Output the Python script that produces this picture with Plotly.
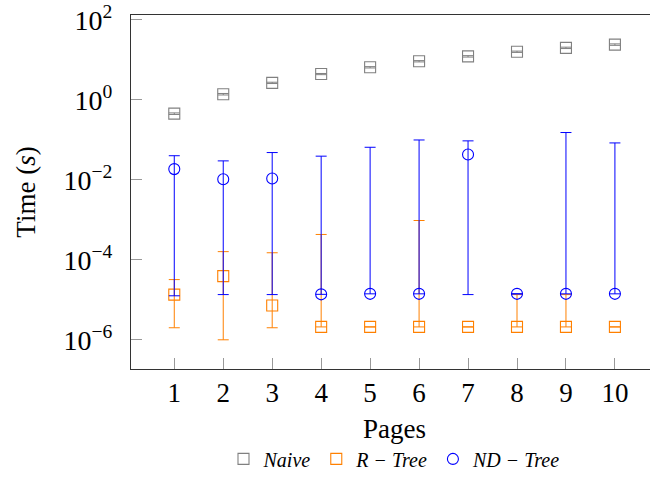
import plotly.graph_objects as go

pages = [1, 2, 3, 4, 5, 6, 7, 8, 9, 10]

naive = [0.45, 1.38, 2.65, 4.4, 6.5, 9.2, 12.2, 15.9, 19.9, 24.0]
naive_upper = [0.47, 1.44, 2.75, 4.55, 6.75, 9.55, 12.7, 16.5, 20.7, 25.0]
naive_lower = [0.43, 1.32, 2.55, 4.25, 6.25, 8.85, 11.7, 15.3, 19.1, 23.0]

rtree = [1.35e-5, 3.9e-5, 7.2e-6, 2.1e-6, 2.1e-6, 2.1e-6, 2.1e-6, 2.1e-6, 2.1e-6, 2.1e-6]
rtree_upper = [3.2e-5, 1.6e-4, 1.5e-4, 4.3e-4, 2.1e-6, 9.6e-4, 2.1e-6, 1.35e-5, 1.35e-5, 2.1e-6]
rtree_lower = [2.0e-6, 1.0e-6, 2.0e-6, 2.1e-6, 2.1e-6, 2.1e-6, 2.1e-6, 2.1e-6, 2.1e-6, 2.1e-6]

ndtree = [0.0185, 0.0103, 0.0108, 1.37e-5, 1.41e-5, 1.41e-5, 0.043, 1.41e-5, 1.41e-5, 1.41e-5]
ndtree_upper = [0.040, 0.0297, 0.048, 0.039, 0.065, 0.099, 0.094, 1.41e-5, 0.152, 0.0835]
ndtree_lower = [1.26e-5, 1.35e-5, 1.35e-5, 1.37e-5, 1.41e-5, 1.41e-5, 1.35e-5, 1.41e-5, 1.41e-5, 1.41e-5]

ytick_vals = [1e-6, 1e-4, 1e-2, 1, 1e2]
ytick_text = ["10<sup>−6</sup>", "10<sup>−4</sup>", "10<sup>−2</sup>", "10<sup>0</sup>", "10<sup>2</sup>"]

series = [
    ("<i>Naive</i>", naive, naive_upper, naive_lower, "#808080", "square-open"),
    ("<i>R − Tree</i>", rtree, rtree_upper, rtree_lower, "#FF8000", "square-open"),
    ("<i>ND − Tree</i>", ndtree, ndtree_upper, ndtree_lower, "#0000FF", "circle-open"),
]

FONT = "Liberation Serif, DejaVu Serif, serif"

fig = go.Figure()
for name, vals, up, lo, color, sym in series:
    fig.add_trace(go.Scatter(
        x=pages, y=vals, name=name, mode="markers",
        marker=dict(symbol=sym, size=11, color=color, line=dict(width=1.1, color=color)),
        error_y=dict(type="data", symmetric=False,
                     array=[u - v for u, v in zip(up, vals)],
                     arrayminus=[v - l for l, v in zip(lo, vals)],
                     color=color, thickness=1, width=5.5),
    ))

fig.update_layout(
    width=658, height=479,
    margin=dict(l=131, r=0, t=15, b=103),
    paper_bgcolor="white", plot_bgcolor="white",
    font=dict(family=FONT, size=27, color="black"),
    showlegend=True,
    legend=dict(orientation="h", x=0.5, xanchor="center", y=-0.254, yanchor="middle",
                font=dict(family=FONT, size=20), itemwidth=30, tracegroupgap=0,
                bgcolor="rgba(0,0,0,0)"),
    xaxis=dict(range=[0.116, 10.88], tickvals=pages, ticktext=[str(p) for p in pages],
               ticks="inside", ticklen=11, tickcolor="#999999", tickwidth=1,
               showline=True, linecolor="#333333", linewidth=1, mirror=True,
               showgrid=False, zeroline=False, tickfont=dict(size=27),
               ticklabeloverflow="allow", automargin=False,
               title=dict(text="Pages", font=dict(size=27), standoff=11)),
    yaxis=dict(type="log", range=[-6.73, 2.12], tickvals=ytick_vals, ticktext=ytick_text,
               ticks="inside", ticklen=11, tickcolor="#999999", tickwidth=1,
               showline=True, linecolor="#333333", linewidth=1, mirror=True,
               showgrid=False, zeroline=False, tickfont=dict(size=28),
               ticklabelstandoff=12, ticklabeloverflow="allow", automargin=False,
               title=dict(text="Time (<i>s</i>)", font=dict(size=27), standoff=20)),
)

fig.write_html(
    "out.html",
    config={"displayModeBar": False},
    post_script="document.body.style.margin='0px';document.body.style.overflow='hidden';",
)
